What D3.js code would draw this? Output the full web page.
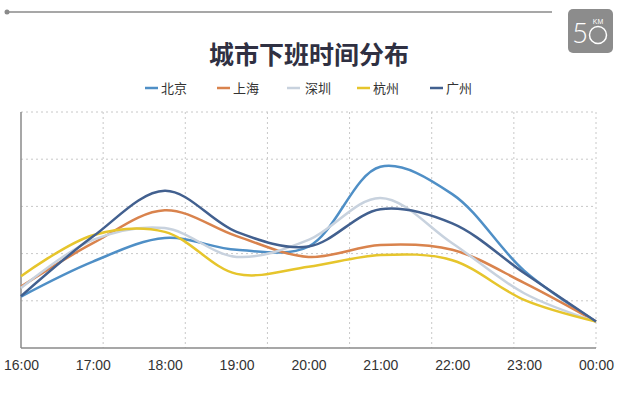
<!DOCTYPE html>
<html>
  <head>
    <meta http-equiv="Content-Type" content="text/html;charset=utf-8"/>
    <title>城市下班时间分布</title>
    <script src="https://cdn.jsdelivr.net/npm/d3@7/dist/d3.min.js"></script>
    <style>
      body { margin: 0; background: #fff; }
      text { font-family: "Noto Sans CJK SC", "Liberation Sans", sans-serif; }
    </style>
  </head>
  <body>
    <svg id="target"></svg>
  </body>
  <script>
    var width = 621;
    var height = 399;

    var hours = [ "16:00", "17:00", "18:00", "19:00", "20:00", "21:00", "22:00", "23:00", "00:00" ];
    var cities = [ "北京", "上海", "深圳", "杭州", "广州" ];
    var colors = [ "#4f8fc6", "#d9834d", "#c8d2de", "#e6c52c", "#42608f" ];
    var beijing  = [ 1.09, 1.83, 2.33, 2.08, 2.15, 3.84, 3.26, 1.64, 0.56 ];
    var shanghai = [ 1.30, 2.22, 2.92, 2.37, 1.93, 2.18, 2.08, 1.38, 0.56 ];
    var shenzhen = [ 1.27, 2.29, 2.54, 1.93, 2.29, 3.18, 2.22, 1.16, 0.56 ];
    var hangzhou = [ 1.52, 2.39, 2.46, 1.57, 1.72, 1.97, 1.86, 1.02, 0.56 ];
    var guangzhou = [ 1.10, 2.36, 3.33, 2.46, 2.15, 2.94, 2.64, 1.59, 0.56 ];
    var series = [ beijing, shanghai, shenzhen, hangzhou, guangzhou ];

    var plotLeft = 21, plotRight = 596, plotTop = 112, plotBottom = 348;
    var svg = d3.select( "#target" ).attr( "width", width ).attr( "height", height );

    // header line + logo
    svg.append( "line" ).attr( "x1", 7 ).attr( "x2", 552 ).attr( "y1", 12 ).attr( "y2", 12 )
      .attr( "stroke", "#8a8a8a" ).attr( "stroke-width", 1.5 );
    svg.append( "circle" ).attr( "cx", 7 ).attr( "cy", 12 ).attr( "r", 2.5 ).attr( "fill", "#8a8a8a" );
    var logo = svg.append( "g" ).attr( "transform", "translate(568,9)" );
    logo.append( "rect" ).attr( "width", 45 ).attr( "height", 44 ).attr( "rx", 5 ).attr( "fill", "#8c8c8c" );
    logo.append( "text" ).attr( "x", 4 ).attr( "y", 34 ).attr( "fill", "#fff" )
      .style( "font-family", "Lato, sans-serif" ).style( "font-size", "28px" ).style( "font-weight", 300 ).text( "5" );
    logo.append( "circle" ).attr( "cx", 30 ).attr( "cy", 26 ).attr( "r", 8.5 )
      .attr( "fill", "none" ).attr( "stroke", "#fff" ).attr( "stroke-width", 1.5 );
    logo.append( "text" ).attr( "x", 30 ).attr( "y", 15 ).attr( "text-anchor", "middle" ).attr( "fill", "#fff" )
      .style( "font-size", "7px" ).style( "font-family", "Liberation Sans" ).text( "KM" );

    // title
    svg.append( "text" ).attr( "x", 309 ).attr( "y", 64 ).attr( "text-anchor", "middle" )
      .attr( "fill", "#2f3042" ).style( "font-size", "25px" ).style( "font-weight", "bold" )
      .text( "城市下班时间分布" );

    // legend
    var legendX = [ 145, 217, 287, 357, 430 ];
    var legend = svg.selectAll( ".legend" ).data( cities ).enter().append( "g" )
      .attr( "transform", ( d, i ) => "translate(" + legendX[i] + ",88)" );
    legend.append( "line" ).attr( "x1", 0 ).attr( "x2", 13 )
      .attr( "stroke", ( d, i ) => colors[i] ).attr( "stroke-width", 2.5 );
    legend.append( "text" ).attr( "x", ( d, i ) => i == 2 ? 18 : 16 ).attr( "y", 5 )
      .attr( "fill", "#333" ).style( "font-size", "13px" ).text( d => d );

    var xScale = d3.scalePoint().domain( hours ).range( [ plotLeft, plotRight ] );
    var yScale = d3.scaleLinear().domain( [ 0, 5 ] ).range( [ plotBottom, plotTop ] );
    var gridX = d3.scaleLinear().domain( [ 0, 7 ] ).range( [ plotLeft, plotRight ] );

    // grid
    svg.append( "g" ).selectAll( "line" ).data( d3.range( 1, 6 ) ).enter().append( "line" )
      .attr( "x1", plotLeft ).attr( "x2", plotRight )
      .attr( "y1", d => yScale( d ) ).attr( "y2", d => yScale( d ) )
      .attr( "stroke", "#c8c8c8" ).attr( "stroke-dasharray", "2,3" );
    svg.append( "g" ).selectAll( "line" ).data( d3.range( 1, 8 ) ).enter().append( "line" )
      .attr( "x1", d => gridX( d ) ).attr( "x2", d => gridX( d ) )
      .attr( "y1", plotTop ).attr( "y2", plotBottom )
      .attr( "stroke", "#c8c8c8" ).attr( "stroke-dasharray", "2,3" );

    // axes
    var axisX = d3.axisBottom( xScale ).tickSize( 0 ).tickPadding( 12 );
    var gx = svg.append( "g" ).attr( "transform", "translate(0," + plotBottom + ")" ).call( axisX );
    gx.select( ".domain" ).attr( "stroke", "#8a8a8a" ).attr( "stroke-width", 1.5 ).attr( "d", "M" + plotLeft + ",0H" + plotRight );
    gx.selectAll( "text" ).attr( "fill", "#333" )
      .style( "font-family", "Liberation Sans, sans-serif" ).style( "font-size", "14px" );
    svg.append( "line" ).attr( "x1", plotLeft ).attr( "x2", plotLeft ).attr( "y1", plotTop ).attr( "y2", plotBottom )
      .attr( "stroke", "#8a8a8a" ).attr( "stroke-width", 1.5 );

    // lines
    var line = d3.line()
      .x( ( d, i ) => xScale( hours[i] ) )
      .y( d => yScale( d ) )
      .curve( d3.curveCatmullRom.alpha( 0.5 ) );

    svg.append( "g" ).selectAll( "path" ).data( series ).enter().append( "path" )
      .attr( "d", d => line( d ) )
      .attr( "fill", "none" )
      .attr( "stroke", ( d, i ) => colors[i] )
      .attr( "stroke-width", 2.5 );
  </script>
</html>
